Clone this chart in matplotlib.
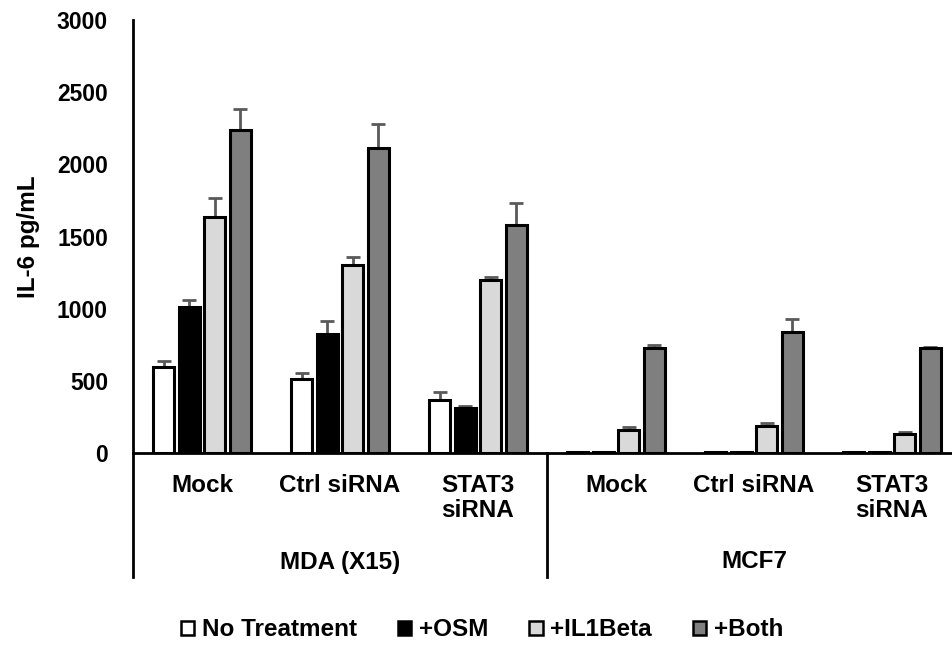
import matplotlib
matplotlib.use("Agg")
import matplotlib.pyplot as plt
from matplotlib.patches import Patch
from matplotlib.lines import Line2D
import numpy as np

plt.rcParams['font.family'] = ['Liberation Sans', 'DejaVu Sans']
plt.rcParams['font.weight'] = 'bold'

categories = ["Mock", "Ctrl siRNA", "STAT3\nsiRNA", "Mock", "Ctrl siRNA", "STAT3\nsiRNA"]
groups = ["MDA (X15)", "MCF7"]
series = ["No Treatment", "+OSM", "+IL1Beta", "+Both"]
no_treatment = [595, 515, 370, 5, 5, 5]
osm = [1015, 825, 310, 5, 7, 5]
il1beta = [1635, 1300, 1200, 160, 190, 130]
both = [2240, 2110, 1580, 730, 835, 725]
err_no_treatment = [45, 40, 55, 0, 0, 0]
err_osm = [45, 90, 15, 0, 0, 0]
err_il1beta = [130, 55, 20, 20, 15, 15]
err_both = [140, 170, 155, 15, 90, 10]

values = [no_treatment, osm, il1beta, both]
errors = [err_no_treatment, err_osm, err_il1beta, err_both]
colors = ["#ffffff", "#000000", "#d9d9d9", "#7f7f7f"]

FS = 17.5

fig = plt.figure(figsize=(9.52, 6.45), dpi=100)
ax = fig.add_axes([133/952, 1-453/645, 828/952, 433/645])

x = np.arange(len(categories))
slot = 0.185
width = 0.155
for i, (vals, errs, c) in enumerate(zip(values, errors, colors)):
    pos = x + (i - 1.5) * slot
    ax.bar(pos, vals, width, color=c, edgecolor="black", linewidth=2.2, zorder=3)
    ax.errorbar(pos, vals, yerr=[np.zeros(len(errs)), errs], fmt='none',
                ecolor="#5a5a5a", elinewidth=2, capsize=5, capthick=2, zorder=2)

ax.set_xlim(-0.5, 5.5)
ax.set_ylim(0, 3000)
ax.set_yticks([0, 500, 1000, 1500, 2000, 2500, 3000])
ax.tick_params(axis='y', length=0, pad=18, labelsize=16.5)
for lab in ax.get_yticklabels():
    lab.set_fontweight('bold')
ax.set_xticks([])
for s in ['top', 'right']:
    ax.spines[s].set_visible(False)
ax.spines['left'].set_linewidth(2)
ax.spines['bottom'].set_linewidth(2)
ax.set_ylabel("IL-6 pg/mL", fontsize=FS, fontweight='bold')
ax.yaxis.set_label_coords((40 - 133) / 828, 0.5)

# extended lines below axis
low = (453 - 577) / 433
ax.add_line(Line2D([0, 0], [low, 0], transform=ax.transAxes, color='black', lw=2, clip_on=False))
trans = ax.get_xaxis_transform()
ax.add_line(Line2D([2.5, 2.5], [low, 0], transform=trans, color='black', lw=2, clip_on=False))

# category labels
for xi, cat in zip(x, categories):
    ax.text(xi, (453 - 474) / 433, cat, transform=trans, ha='center', va='top',
            fontsize=FS, fontweight='bold', linespacing=1.12)
for gi, g in enumerate(groups):
    ax.text(1 + 3 * gi, (453 - 562) / 433, g, transform=trans, ha='center', va='center',
            fontsize=FS, fontweight='bold')

handles = [Patch(facecolor=c, edgecolor='black', linewidth=1.8) for c in colors]
fig.legend(handles, series, loc='center', bbox_to_anchor=(482/952, 1-630/645), ncol=4,
           frameon=False, prop={'size': FS, 'weight': 'bold'}, handlelength=0.55,
           handleheight=0.55, handletextpad=0.3, columnspacing=1.7)

fig.savefig("out.png", dpi=100)
